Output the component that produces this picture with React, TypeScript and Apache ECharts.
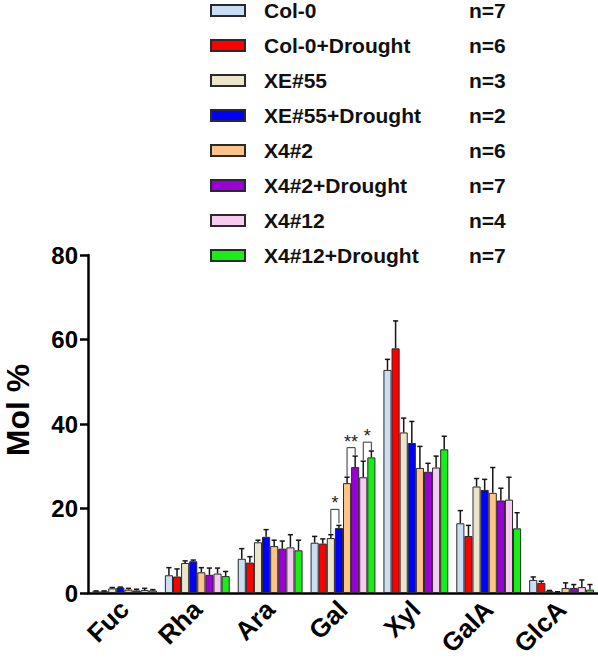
import React, { useEffect, useRef } from "react";
import * as echarts from "echarts";

const categories = ["Fuc", "Rha", "Ara", "Gal", "Xyl", "GalA", "GlcA"];
const seriesNames = [
  "Col-0",
  "Col-0+Drought",
  "XE#55",
  "XE#55+Drought",
  "X4#2",
  "X4#2+Drought",
  "X4#12",
  "X4#12+Drought",
];
const sampleSizes = ["n=7", "n=6", "n=3", "n=2", "n=6", "n=7", "n=4", "n=7"];
const seriesColors = [
  "#c9ddf3",
  "#ff0000",
  "#ebe5cc",
  "#0000ff",
  "#ffc388",
  "#9a00d6",
  "#f7cbef",
  "#17ee17",
];

// means (Mol %) per category: Fuc, Rha, Ara, Gal, Xyl, GalA, GlcA
const col0 = [0.4, 4.2, 8.1, 11.9, 52.8, 16.5, 3.1];
const col0Drought = [0.4, 3.9, 7.2, 11.7, 57.9, 13.5, 2.4];
const xe55 = [1.1, 7.1, 12.0, 13.0, 38.0, 25.2, 0.5];
const xe55Drought = [1.3, 7.5, 13.3, 15.4, 35.5, 24.4, 0.2];
const x42 = [0.8, 4.9, 11.1, 26.0, 29.6, 23.7, 1.2];
const x42Drought = [0.6, 4.3, 10.5, 29.8, 28.7, 21.9, 1.2];
const x412 = [0.7, 4.6, 10.8, 27.4, 29.7, 22.1, 1.4];
const x412Drought = [0.6, 4.0, 10.1, 32.1, 34.0, 15.3, 0.8];

// upper ends of error bars
const col0Upper = [0.5, 6.0, 10.5, 13.4, 55.3, 19.5, 3.8];
const col0DroughtUpper = [0.5, 5.7, 8.6, 12.8, 64.4, 16.0, 2.8];
const xe55Upper = [1.3, 7.6, 12.5, 13.8, 41.4, 27.1, 0.6];
const xe55DroughtUpper = [1.4, 7.8, 15.0, 16.0, 40.6, 26.9, 0.3];
const x42Upper = [1.1, 6.0, 12.5, 27.4, 34.7, 29.7, 2.4];
const x42DroughtUpper = [0.9, 5.9, 12.3, 32.4, 30.7, 24.8, 2.0];
const x412Upper = [1.1, 5.9, 13.8, 31.2, 32.4, 27.4, 3.1];
const x412DroughtUpper = [0.8, 5.1, 12.5, 33.6, 37.1, 19.0, 2.0];

const yTicks = [0, 20, 40, 60, 80];

// significance brackets: category, left series, right series, bracket top, left foot, right foot, label
const sigCategory = [3, 3, 3];
const sigLeft = [2, 4, 6];
const sigRight = [3, 5, 7];
const sigTop = [19.8, 34.4, 35.7];
const sigLeftFoot = [14.0, 27.5, 31.5];
const sigRightFoot = [16.5, 32.7, 33.8];
const sigLabels = ["*", "**", "*"];

const means = [col0, col0Drought, xe55, xe55Drought, x42, x42Drought, x412, x412Drought];
const uppers = [
  col0Upper,
  col0DroughtUpper,
  xe55Upper,
  xe55DroughtUpper,
  x42Upper,
  x42DroughtUpper,
  x412Upper,
  x412DroughtUpper,
];

const N = seriesNames.length;
const GAP = 0.11;
const FONT = "'Liberation Sans', Arial, sans-serif";

function barCenter(api: any, cat: number, s: number) {
  const band = api.size([1, 0])[0];
  const bw = (band * (1 - GAP)) / N;
  return { x: api.coord([cat, 0])[0] + (s - (N - 1) / 2) * bw, bw };
}

export default function App() {
  const ref = useRef<HTMLDivElement>(null);
  useEffect(() => {
    if (!ref.current) return;
    const chart = echarts.init(ref.current, undefined, { renderer: "svg" });

    const barSeries = seriesNames.map((name, i) => ({
      name,
      type: "bar",
      data: means[i],
      barGap: "0%",
      barCategoryGap: GAP * 100 + "%",
      itemStyle: { color: seriesColors[i], borderColor: "#2a2a2a", borderWidth: 1 },
      z: 2,
    }));

    const errData: number[][] = [];
    means.forEach((m, s) => {
      m.forEach((v, c) => errData.push([c, s, v, uppers[s][c]]));
    });

    const sigData = sigCategory.map((c, i) => [
      c,
      sigLeft[i],
      sigRight[i],
      sigTop[i],
      sigLeftFoot[i],
      sigRightFoot[i],
      i,
    ]);

    const option: any = {
      animation: false,
      backgroundColor: "#ffffff",
      textStyle: { fontFamily: FONT },
      grid: { left: 88, right: 0, top: 255, bottom: 71, containLabel: false },
      legend: {
        orient: "vertical",
        left: 210,
        top: 0,
        padding: 0,
        itemWidth: 34,
        itemHeight: 11,
        itemGap: 14,
        data: seriesNames,
        icon: "rect",
        formatter: (name: string) => {
          const i = seriesNames.indexOf(name);
          return `{a|${name}}{b|${sampleSizes[i]}}`;
        },
        textStyle: {
          rich: {
            a: {
              fontFamily: FONT,
              fontSize: 21,
              fontWeight: "bold",
              color: "#111",
              lineHeight: 24,
              width: 205,
              padding: [0, 0, 0, 14],
            },
            b: {
              fontFamily: FONT,
              fontSize: 21,
              fontWeight: "bold",
              color: "#111",
              lineHeight: 24,
            },
          },
        },
      },
      graphic: [
        {
          type: "text",
          x: 18,
          y: 410,
          rotation: Math.PI / 2,
          style: {
            text: "Mol %",
            fontFamily: FONT,
            fontSize: 32,
            fontWeight: "bold",
            fill: "#000",
            align: "center",
            verticalAlign: "middle",
          },
        },
      ],
      xAxis: {
        type: "category",
        data: categories,
        axisLine: { lineStyle: { color: "#000", width: 2.5 } },
        axisTick: { alignWithLabel: true, length: 9, lineStyle: { color: "#000", width: 3 } },
        axisLabel: {
          rotate: 45,
          margin: 12,
          fontFamily: FONT,
          fontSize: 26,
          fontWeight: "bold",
          color: "#000",
        },
      },
      yAxis: {
        type: "value",
        min: yTicks[0],
        max: yTicks[yTicks.length - 1],
        interval: yTicks[1] - yTicks[0],
        splitLine: { show: false },
        axisLine: { show: true, lineStyle: { color: "#000", width: 2.5 } },
        axisTick: { show: true, length: 8, lineStyle: { color: "#000", width: 2.5 } },
        axisLabel: {
          margin: 10,
          fontFamily: FONT,
          fontSize: 24,
          fontWeight: "bold",
          color: "#000",
        },
      },
      series: [
        ...barSeries,
        {
          type: "custom",
          name: "errors",
          data: errData,
          encode: { x: 0, y: 3 },
          z: 5,
          silent: true,
          renderItem: (_p: any, api: any) => {
            const cat = api.value(0);
            const s = api.value(1);
            const mean = api.value(2);
            const up = api.value(3);
            const { x, bw } = barCenter(api, cat, s);
            const yMean = api.coord([cat, mean])[1];
            const yUp = api.coord([cat, up])[1];
            const cap = bw * 0.32;
            const st = { stroke: "#151515", lineWidth: 1.5 };
            return {
              type: "group",
              children: [
                { type: "line", shape: { x1: x, y1: yMean, x2: x, y2: yUp }, style: st },
                { type: "line", shape: { x1: x - cap, y1: yUp, x2: x + cap, y2: yUp }, style: st },
              ],
            };
          },
        },
        {
          type: "custom",
          name: "significance",
          data: sigData,
          encode: { x: 0, y: 3 },
          z: 6,
          silent: true,
          renderItem: (_p: any, api: any) => {
            const cat = api.value(0);
            const a = barCenter(api, cat, api.value(1)).x;
            const b = barCenter(api, cat, api.value(2)).x;
            const yTop = api.coord([cat, api.value(3)])[1];
            const yA = api.coord([cat, api.value(4)])[1];
            const yB = api.coord([cat, api.value(5)])[1];
            const idx = api.value(6);
            const st = { stroke: "#333", lineWidth: 1 };
            return {
              type: "group",
              children: [
                {
                  type: "polyline",
                  shape: { points: [[a, yA], [a, yTop], [b, yTop], [b, yB]] },
                  style: { ...st, fill: null },
                },
                {
                  type: "text",
                  x: (a + b) / 2,
                  y: yTop + 3,
                  style: {
                    text: sigLabels[idx],
                    fontFamily: FONT,
                    fontSize: 18,
                    fill: "#222",
                    align: "center",
                    verticalAlign: "bottom",
                  },
                },
              ],
            };
          },
        },
      ],
    };

    chart.setOption(option);
    return () => chart.dispose();
  }, []);

  return (
    <div
      ref={ref}
      style={{ position: "fixed", left: 0, top: 0, width: 598, height: 664, background: "#fff" }}
    />
  );
}
